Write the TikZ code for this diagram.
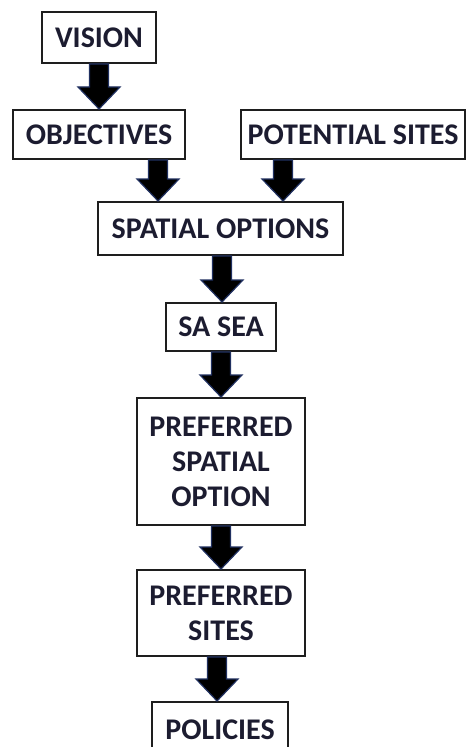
\documentclass[tikz,border=0pt]{standalone}
\usepackage{fontspec}
\setmainfont{Carlito}
\usetikzlibrary{calc}
\definecolor{navy}{RGB}{32,48,96}
\definecolor{textc}{RGB}{28,28,48}
\definecolor{boxc}{RGB}{30,30,30}
\tikzset{
  box/.style={draw=boxc, line width=2bp, fill=white, inner sep=0pt, align=center,
    text=textc, font=\fontsize{30bp}{35bp}\selectfont\bfseries},
  blockarrow/.style={fill=black, draw=navy, line width=1.2bp, line join=miter,
    to path={let \p1=(\tikztostart), \p2=(\tikztotarget) in
      (\x1-9.5bp,\y1) -- (\x1+9.5bp,\y1) -- (\x1+9.5bp,\y2+22bp) -- (\x1+21bp,\y2+22bp)
      -- (\x1,\y2) -- (\x1-21bp,\y2+22bp) -- (\x1-9.5bp,\y2+22bp) -- cycle}}
}
\begin{document}
\begin{tikzpicture}[x=1bp,y=-1bp]
\useasboundingbox (0,0) rectangle (470,747);
\clip (0,0) rectangle (470,747);
\node[box, minimum width=114bp, minimum height=51bp] (vision) at (99,37.5) {VISION};
\node[box, minimum width=172bp, minimum height=49bp] (objectives) at (99,134.5) {OBJECTIVES};
\node[box, minimum width=224bp, minimum height=49bp] (potential) at (353,134.5) {POTENTIAL SITES};
\node[box, minimum width=245bp, minimum height=53bp] (spatial) at (220.5,228.5) {SPATIAL OPTIONS};
\node[box, minimum width=110bp, minimum height=48bp] (sasea) at (221,327) {SA SEA};
\node[box, minimum width=168bp, minimum height=127bp] (pso) at (221,461.5) {PREFERRED\\SPATIAL\\OPTION};
\node[box, minimum width=168bp, minimum height=86bp] (psites) at (221,613) {PREFERRED\\SITES};
\node[box, minimum width=136bp, minimum height=56bp] (policies) at (220,730) {POLICIES};
\draw[blockarrow] (vision.south) to (objectives.north);
\draw[blockarrow] ([xshift=59bp]objectives.south) to (spatial.north);
\draw[blockarrow] ([xshift=-70bp]potential.south) to (spatial.north);
\draw[blockarrow] ([xshift=1.5bp]spatial.south) to (sasea.north);
\draw[blockarrow] (sasea.south) to (pso.north);
\draw[blockarrow] (pso.south) to (psites.north);
\draw[blockarrow] ([xshift=-4bp]psites.south) to (policies.north);
\end{tikzpicture}
\end{document}
